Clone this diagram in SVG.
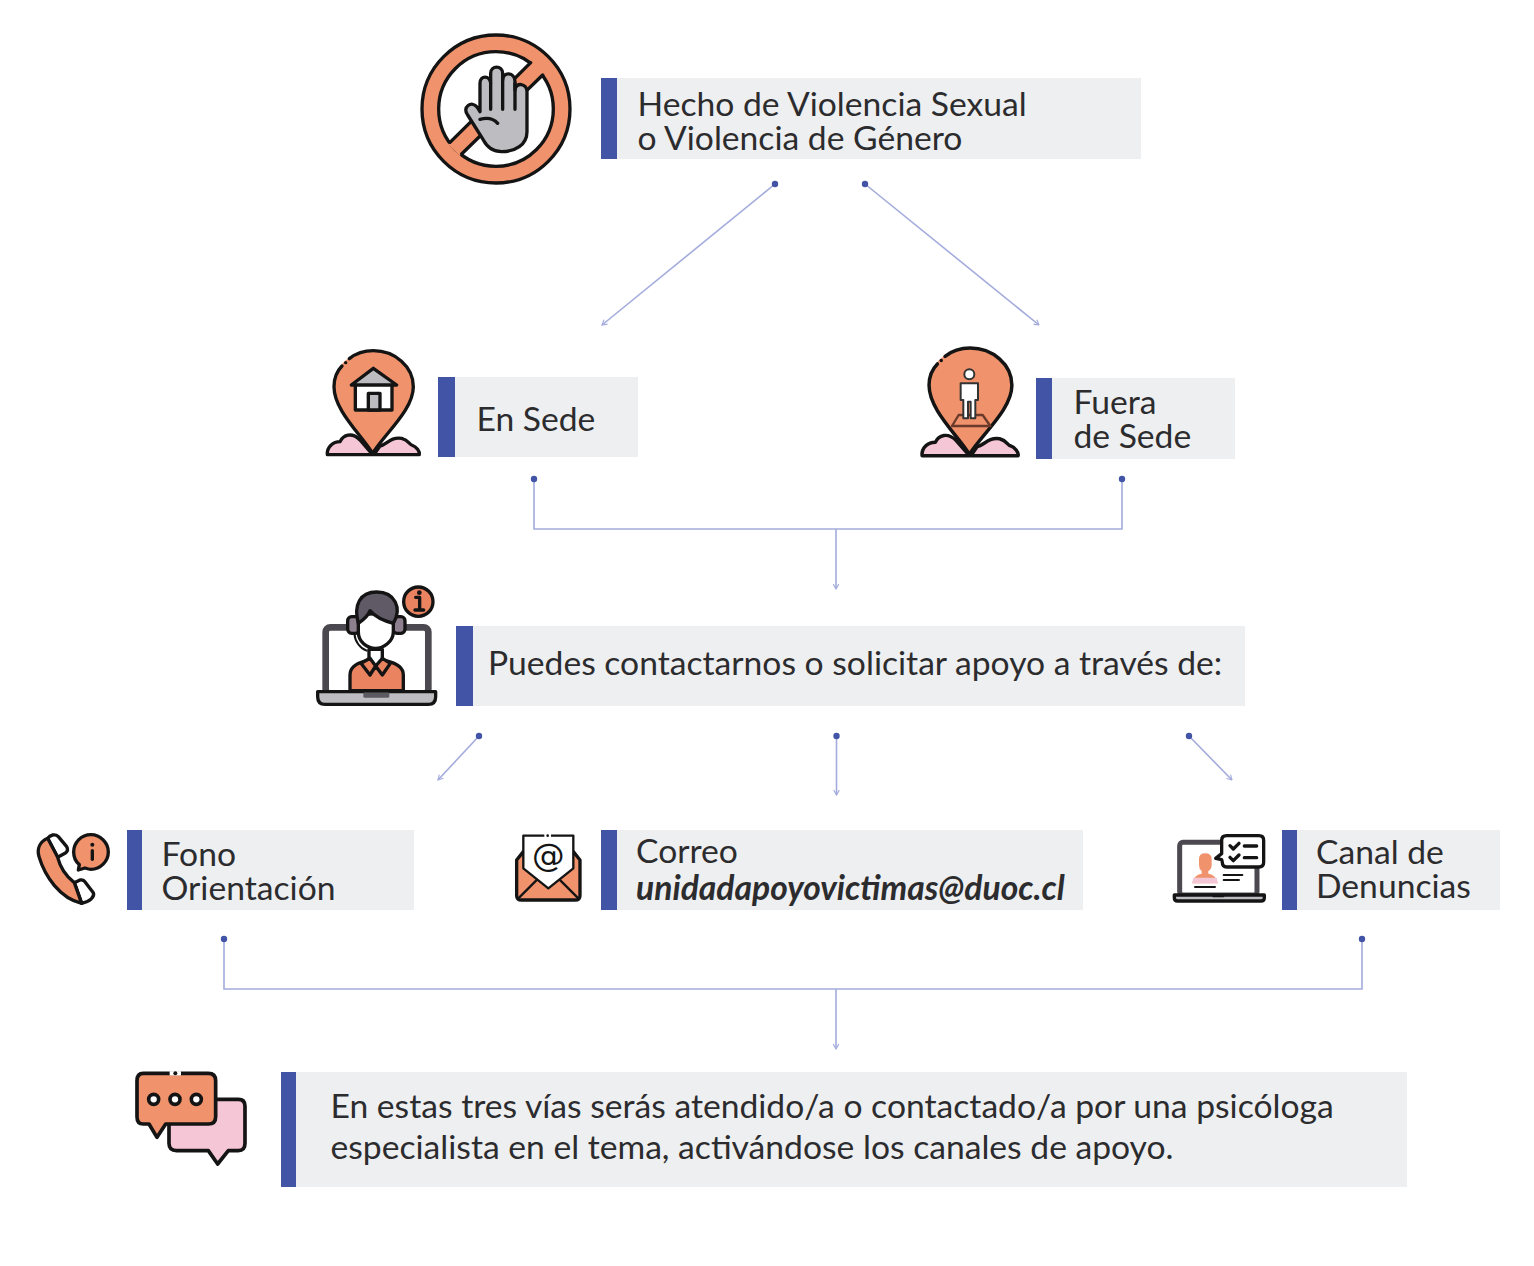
<svg xmlns="http://www.w3.org/2000/svg" width="1534" height="1266" viewBox="0 0 1534 1266">
<defs>
<style>
.box{fill:#eeeff1}.bar{fill:#4254a6}
text{font-family:Lato,"Liberation Sans",sans-serif;font-size:33.65px;fill:#2c2c2e}
.c{fill:none;stroke:#a3acdc;stroke-width:1.6}
.d{fill:#4254a6}
.k{stroke:#141414;stroke-width:10;stroke-linejoin:round;stroke-linecap:round}
.l{fill:none;stroke:#141414;stroke-width:10;stroke-linejoin:round;stroke-linecap:round}
.o{fill:#f0926c}.p{fill:#f5c6d6}.w{fill:#fff}.g{fill:#bcbcc1}.s{fill:#5f5a66}
</style>
<marker id="a" viewBox="0 0 10 10" refX="9" refY="5" markerWidth="7" markerHeight="7" orient="auto" markerUnits="userSpaceOnUse"><path d="M2 1L9 5L2 9" fill="none" stroke="#a3acdc" stroke-width="1.6"/></marker>
<symbol id="pin" overflow="visible"><path class="p k" d="M52 344C50 320 70 305 90 305C100 285 125 275 150 300L188 344Z"/><path class="p k" d="M192 344L210 318C230 315 240 290 275 295C295 300 300 315 305 315C320 320 330 335 328 344Z"/><path class="o" d="M188 340C150 280 72 210 72 140C72 75 125 32 190 32C255 32 310 80 310 140C310 210 225 280 188 340Z"/><path class="l" d="M188 340C150 280 72 210 72 140C72 115 82 92 96 78M118 56C138 40 162 32 190 32C255 32 310 80 310 140C310 210 225 280 188 340"/><circle cx="107" cy="68" r="5" fill="#141414"/></symbol>
</defs>
<rect width="1534" height="1266" fill="#fff"/>

<g id="connectors">
<path class="c" marker-end="url(#a)" d="M775 184L602 325"/>
<path class="c" marker-end="url(#a)" d="M865 184L1039 325"/>
<path class="c" d="M534 479V529H1122V479"/>
<path class="c" marker-end="url(#a)" d="M836 529V589"/>
<path class="c" marker-end="url(#a)" d="M479 736L438 780"/>
<path class="c" marker-end="url(#a)" d="M836.500 736V795"/>
<path class="c" marker-end="url(#a)" d="M1189 736L1232 780"/>
<path class="c" d="M224 939V989H1362V939"/>
<path class="c" marker-end="url(#a)" d="M836 989V1049"/>
<circle class="d" cx="775" cy="184" r="3.2"/><circle class="d" cx="865" cy="184" r="3.2"/><circle class="d" cx="534" cy="479" r="3.2"/><circle class="d" cx="1122" cy="479" r="3.2"/><circle class="d" cx="479" cy="736" r="3.2"/><circle class="d" cx="836.500" cy="736" r="3.2"/><circle class="d" cx="1189" cy="736" r="3.2"/><circle class="d" cx="224" cy="939" r="3.2"/><circle class="d" cx="1362" cy="939" r="3.2"/>
</g>

<g id="node-hecho">
<rect class="box" x="601" y="78" width="540" height="81"/><rect class="bar" x="601" y="78" width="16" height="81"/>
<text x="637.500" y="116">Hecho de Violencia Sexual<tspan x="637.500" dy="33.500">o Violencia de Género</tspan></text>
<g transform="translate(400,20) scale(.3333)">
<circle cx="288" cy="267" r="222" class="o" stroke="#141414" stroke-width="10"/>
<circle cx="288" cy="267" r="172" class="w" stroke="#141414" stroke-width="10"/>
<path class="o" d="M398 122L144 373L179 408L434 159Z"/>
<path class="l" d="M392 128L150 367M185 402L428 165"/>
<path class="g k" d="M240 275V190C240 165 270 165 272 190V160C272 135 308 135 308 160V180C308 155 345 155 345 185V210C347 185 381 190 381 215V335C381 375 345 395 305 395C275 395 258 375 250 360L203 285C185 262 215 240 232 262Z"/>
<path class="l" d="M272 190V268M308 170V268M345 190V268M240 298C262 292 280 295 293 310"/>
</g>
</g>

<g id="node-en-sede">
<rect class="box" x="438" y="377" width="200" height="80"/><rect class="bar" x="438" y="377" width="17" height="80"/>
<text x="476.500" y="431">En Sede</text>
<g transform="translate(310,340) scale(.3333)">
<use href="#pin"/>
<rect class="w k" x="136" y="130" width="110" height="80"/>
<path class="g k" d="M124 135L190 85L260 135Z"/>
<rect class="g k" x="175" y="160" width="35" height="50"/>
</g>
</g>

<g id="node-fuera-sede">
<rect class="box" x="1036" y="378" width="199" height="81"/><rect class="bar" x="1036" y="378" width="16" height="81"/>
<text x="1073.500" y="414">Fuera<tspan x="1073.500" dy="34">de Sede</tspan></text>
<g transform="translate(904,337) scale(.348,.345)"><use href="#pin"/></g>
<g transform="translate(905,338) scale(.3333)">
<g transform="translate(11,6) ">
<path fill="none" stroke="#6b3a2a" stroke-width="7" stroke-linejoin="round" d="M150 225H222L245 258H130Z"/>
<circle cx="182" cy="103" r="15" class="w" stroke="#333" stroke-width="6"/>
<path class="w" stroke="#333" stroke-width="6" stroke-linejoin="round" d="M156 130H208V180H200V235H186V185H178V235H164V180H156Z"/>
</g>
</g>
</g>

<g id="node-contacto">
<rect class="box" x="456" y="626" width="789" height="80"/><rect class="bar" x="456" y="626" width="17" height="80"/>
<text x="488" y="675">Puedes contactarnos o solicitar apoyo a través de:</text>
<g transform="translate(305,580) scale(.3333)">
<rect x="62" y="142" width="308" height="200" rx="14" fill="#fff" stroke="#4c4850" stroke-width="20"/>
<path class="g k" d="M38 335H392V350Q392 373 370 373H60Q38 373 38 350Z"/>
<rect x="175" y="337" width="78" height="16" rx="4" fill="#5a5a60"/>
<path class="k" fill="#ea8360" d="M135 332V285Q135 255 180 243L210 232L245 243Q295 255 295 285V332Z"/>
<path class="w k" d="M192 208H232V240L212 262L192 240Z"/>
<path class="k" fill="#ea8360" d="M168 250L195 235L212 258L195 285ZM256 250L232 235L212 258L232 285Z"/>
<rect class="k" x="128" y="110" width="36" height="50" rx="12" fill="#8d7f8d"/>
<rect class="k" x="264" y="110" width="36" height="50" rx="12" fill="#8d7f8d"/>
<path class="w k" d="M160 120C160 95 258 95 265 120V155C265 185 235 205 212 205C185 205 160 185 160 155Z"/>
<path class="s k" d="M160 130C145 75 165 36 215 36C270 36 292 85 265 130C245 125 215 115 195 92C190 105 175 120 160 130Z"/>
<path class="l" style="stroke-width:6" d="M148 160C150 185 165 205 185 212"/>
<circle class="k" fill="#ea8360" cx="340" cy="65" r="44"/>
<path class="l" d="M332 52H344V88M330 90H356"/><circle cx="343" cy="38" r="7" fill="#141414"/>
</g>
</g>

<g id="node-fono">
<rect class="box" x="127" y="830" width="287" height="80"/><rect class="bar" x="127" y="830" width="15" height="80"/>
<text x="161.500" y="866">Fono<tspan x="161.500" dy="33.500">Orientación</tspan></text>
<g transform="translate(25,820) scale(.3333)">
<path class="w k" d="M68 55C75 45 90 40 100 50L125 80Q132 92 120 100L98 112ZM148 188L165 180Q175 178 182 188L205 218C210 230 195 245 170 250Z"/>
<path class="o k" d="M68 55C45 65 35 85 42 110C60 170 105 235 170 250L148 188C125 170 105 140 98 112Z"/>
<path class="o k" d="M198 44C168 44 146 68 146 96C146 112 152 125 163 134L160 150L180 144C186 146 192 148 198 148C226 148 250 124 250 96C250 68 226 44 198 44Z"/>
<path class="l" d="M202 92V118"/><circle cx="202" cy="74" r="6" fill="#141414"/>
</g>
</g>

<g id="node-correo">
<rect class="box" x="601" y="830" width="482" height="80"/><rect class="bar" x="601" y="830" width="16" height="80"/>
<text x="636" y="863">Correo<tspan x="636" y="899.500" style="font-style:italic;font-weight:700">unidadapoyovictimas@duoc.cl</tspan></text>
<g transform="translate(505,825) scale(.3333)">
<path class="o k" d="M35 105L55 80H205L225 105V212Q225 225 210 225H50Q35 225 35 212Z"/>
<path class="l" style="stroke-width:7" d="M40 220L100 160M220 220L160 160"/>
<path class="w k" style="stroke-width:7" d="M55 32V130L130 190L205 130V32Z"/>
<path d="M118 32H138" stroke="#fff" stroke-width="10"/>
<circle cx="128" cy="32" r="4" fill="#141414"/>
<text x="130" y="122" text-anchor="middle" style="font-size:98px;font-family:'DejaVu Sans',sans-serif;fill:#141414">@</text>
</g>
</g>

<g id="node-canal">
<rect class="box" x="1282" y="830" width="218" height="80"/><rect class="bar" x="1282" y="830" width="15" height="80"/>
<text x="1316" y="864">Canal de<tspan x="1316" dy="34">Denuncias</tspan></text>
<g transform="translate(1165,825) scale(.3333)">
<rect x="44" y="52" width="232" height="158" rx="10" fill="#fff" stroke="#4c4850" stroke-width="15"/>
<path class="g k" d="M28 210H298V218Q298 228 288 228H38Q28 228 28 218Z"/>
<path class="l" style="stroke-width:6" d="M145 214H175"/>
<path class="w k" d="M185 32H282Q296 32 296 46V112Q296 126 282 126H185Q172 126 172 112L170 104L152 100L170 86V46Q170 32 185 32Z"/>
<path class="l" d="M195 62L205 72L222 55M195 97L205 107L222 90M238 63H275M238 98H275"/>
<path class="o" d="M102 102Q102 85 120 85Q140 85 140 102V120Q140 132 130 138V146Q154 150 158 175H82Q86 150 110 146V138Q102 132 102 120Z"/>
<path class="p" d="M85 158H155L158 175H82Z"/>
<path class="l" style="stroke-width:6" d="M176 150H232M176 165H222M90 186H150"/>
</g>
</g>

<g id="node-final">
<rect class="box" x="281" y="1072" width="1126" height="115"/><rect class="bar" x="281" y="1072" width="15" height="115"/>
<text x="330.500" y="1118">En estas tres vías serás atendido/a o contactado/a por una psicóloga<tspan x="330.500" dy="41">especialista en el tema, activándose los canales de apoyo.</tspan></text>
<g transform="translate(125,1060) scale(.3333)">
<path class="p k" d="M150 118H340Q360 118 360 138V250Q360 272 340 272H310L278 312L250 272H155Q132 272 132 250V138Q132 118 150 118Z" style="stroke-width:11"/>
<path class="o k" d="M55 40H250Q272 40 272 62V170Q272 192 250 192H122L96 232L72 192H55Q36 192 36 170V62Q36 40 55 40Z" style="stroke-width:11"/>
<path d="M134 40H168" stroke="#fff" stroke-width="13"/>
<circle cx="151" cy="40" r="6" fill="#141414"/>
<circle class="w k" cx="86" cy="118" r="15" style="stroke-width:11"/><circle class="w k" cx="150" cy="118" r="15" style="stroke-width:11"/><circle class="w k" cx="214" cy="118" r="15" style="stroke-width:11"/>
</g>
</g>
</svg>
